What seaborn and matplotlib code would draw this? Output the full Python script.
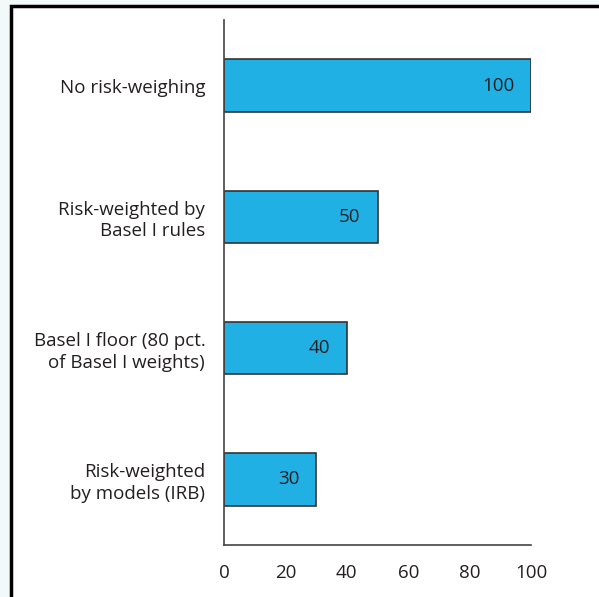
import matplotlib
matplotlib.use("Agg")
import matplotlib.pyplot as plt
import matplotlib.patches as mpatches
import seaborn as sns
import pandas as pd

categories = [
    "No risk-weighing",
    "Risk-weighted by\nBasel I rules",
    "Basel I floor (80 pct.\nof Basel I weights)",
    "Risk-weighted\nby models (IRB)",
]
values = [100, 50, 40, 30]
xticks = [0, 20, 40, 60, 80, 100]

df = pd.DataFrame({"category": categories, "value": values})

sns.set_style("white")
plt.rcParams["font.family"] = ["Open Sans", "DejaVu Sans"]

W, H = 599, 597
fig = plt.figure(figsize=(W / 100, H / 100), dpi=100, facecolor="#f3f8f9")
frame = mpatches.Rectangle((11 / W, -0.05), 1.1, 1 - 6 / H + 0.05,
                           transform=fig.transFigure, facecolor="white",
                           edgecolor="black", linewidth=2.5, zorder=-10)
fig.patches.append(frame)

ax = fig.add_axes([224 / W, 1 - 545 / H, (531 - 224) / W, (545 - 20) / H])
ax.set_zorder(5)
ax.set_facecolor("none")
sns.barplot(data=df, x="value", y="category", orient="h", color="#21b0e4",
            width=0.4, edgecolor="#333333", linewidth=1.2, saturation=1, ax=ax)

FS = 13.5
for i, v in enumerate(values):
    ax.text(v - 5.5, i, str(v), ha="right", va="center", fontsize=FS,
            color="#231f20")

ax.set_xlim(0, 100)
ax.set_ylim(3.5, -0.5)
ax.set_xticks(xticks)
ax.set_xticklabels([str(t) for t in xticks], fontsize=FS, color="#231f20")
ax.set_xlabel("")
ax.set_ylabel("")
ax.tick_params(axis="x", direction="out", length=6, width=1.2, color="#333333", pad=8)
ax.tick_params(axis="y", length=0, pad=13.5)
for lab in ax.get_yticklabels():
    lab.set_fontsize(FS)
    lab.set_color("#231f20")
    lab.set_multialignment("right")
    lab.set_linespacing(1.25)
for s in ["top", "right"]:
    ax.spines[s].set_visible(False)
for s in ["left", "bottom"]:
    ax.spines[s].set_color("#444444")
    ax.spines[s].set_linewidth(1.2)

fig.savefig("out.png", dpi=100, facecolor=fig.get_facecolor())
